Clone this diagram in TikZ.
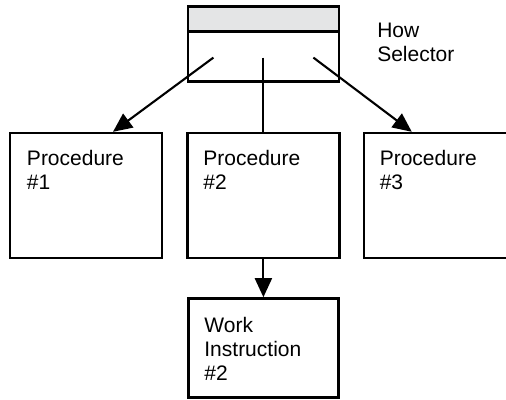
\documentclass[tikz,border=0pt]{standalone}
\usepackage{fontspec}
\setmainfont{Liberation Sans}
\usetikzlibrary{positioning, arrows.meta, calc}
\definecolor{headfill}{HTML}{E4E5E6}
\newcommand{\boxfont}{\fontsize{21}{24}\selectfont}
\tikzset{
  box/.style={
    draw,
    line width=2.4pt,
    minimum width=152pt,
    minimum height=125pt,
    inner sep=0pt
  },
  txt/.style={anchor=north west, align=left, inner sep=0pt, font=\boxfont},
  arr/.style={-{Triangle[length=19pt, width=17pt]}, line width=2.1pt},
  conn/.style={line width=2.1pt}
}

\begin{document}
\begin{tikzpicture}[x=1pt, y=1pt, node distance=24pt]
  \useasboundingbox (0,0) rectangle (506,-399);

  % three procedures in a row
  \node[box] (p1) at (86,-195.5) {};
  \node[box, right=23pt of p1] (p2) {};
  \node[box, right=22pt of p2] (p3) {};

  % selector on top: grey header strip plus body
  \node[box, above=49pt of p2, minimum width=151pt, minimum height=50pt] (sel) {};
  \node[box, fill=headfill, above=-2.4pt of sel, minimum width=151pt, minimum height=25pt] (selhead) {};

  % work instruction under procedure 2
  \node[box, below=38pt of p2, minimum width=150pt, minimum height=99pt] (wi) {};

  % texts
  \node[txt] (p1t) at ($(p1.north west)+(18,-18)$) {Procedure\\\#1};
  \node[txt] (p2t) at ($(p2.north west)+(17,-18)$) {Procedure\\\#2};
  \node[txt] (p3t) at ($(p3.north west)+(17,-18)$) {Procedure\\\#3};
  \node[txt] (wit) at ($(wi.north west)+(17,-20)$) {Work\\Instruction\\\#2};
  \node[txt] (selt) at ($(selhead.north east)+(37,-17)$) {How\\Selector};

  % connectors start inside the selector body
  \coordinate (selL) at ($(sel.center)+(-50,-1)$);
  \coordinate (selM) at ($(sel.center)+(0,-1)$);
  \coordinate (selR) at ($(sel.center)+(50,-1)$);
  \coordinate (p1in) at ($(p1.north)+(27,0)$);
  \coordinate (p3in) at ($(p3.north)+(-28,0)$);

  \draw[arr] (selL) -- (p1in);
  \draw[conn] (selM) -- (selM |- p2.north);
  \draw[arr] (selR) -- (p3in);
  \draw[arr] (p2.south) -- (p2.south |- wi.north);

\end{tikzpicture}
\end{document}
